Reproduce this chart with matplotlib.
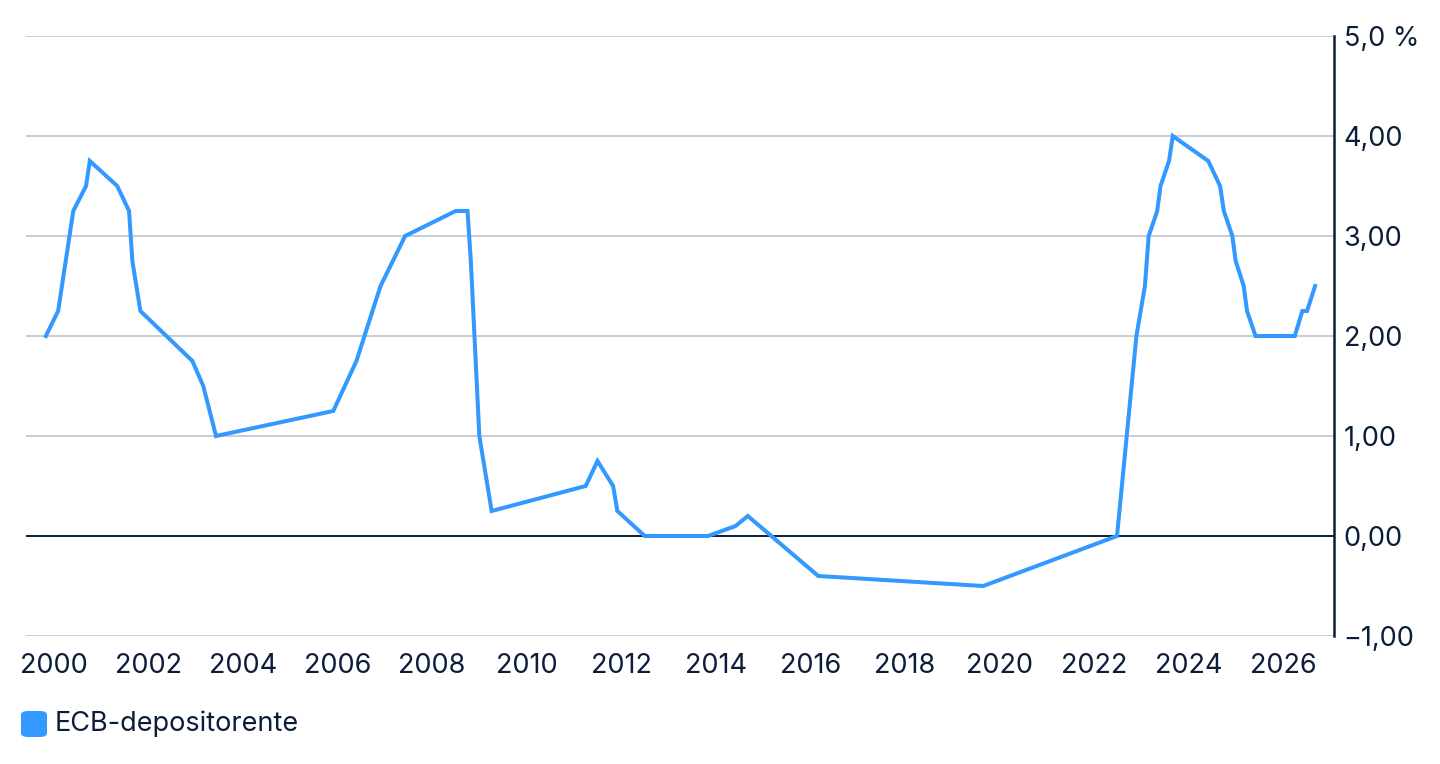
import matplotlib
matplotlib.use("Agg")
import matplotlib.pyplot as plt
from matplotlib.patches import FancyBboxPatch
from matplotlib.ticker import FixedLocator, FuncFormatter

plt.rcParams['font.family'] = ['Inter', 'DejaVu Sans']

# ECB deposit rate, change points (decimal year, %)
years = [1999.83, 2000.09, 2000.41, 2000.68, 2000.76, 2001.34, 2001.59, 2001.66,
         2001.83, 2002.93, 2003.16, 2003.43, 2005.91, 2006.40, 2006.91, 2007.43,
         2008.50, 2008.75, 2008.82, 2009.00, 2009.26, 2011.25, 2011.50, 2011.83,
         2011.92, 2012.50, 2013.84, 2014.42, 2014.68, 2016.17, 2019.66, 2022.49,
         2022.90, 2023.08, 2023.16, 2023.34, 2023.41, 2023.59, 2023.67, 2024.42,
         2024.67, 2024.75, 2024.93, 2025.00, 2025.17, 2025.24, 2025.42, 2026.25,
         2026.41, 2026.51, 2026.68]
rates = [2.00, 2.25, 3.25, 3.50, 3.75, 3.50, 3.25, 2.75,
         2.25, 1.75, 1.50, 1.00, 1.25, 1.75, 2.50, 3.00,
         3.25, 3.25, 2.75, 1.00, 0.25, 0.50, 0.75, 0.50,
         0.25, 0.00, 0.00, 0.10, 0.20, -0.40, -0.50, 0.00,
         2.00, 2.50, 3.00, 3.25, 3.50, 3.75, 4.00, 3.75,
         3.50, 3.25, 3.00, 2.75, 2.50, 2.25, 2.00, 2.00,
         2.25, 2.25, 2.50]

x_ticks = list(range(2000, 2027, 2))
y_ticks = [-1, 0, 1, 2, 3, 4, 5]
y_labels = ['\u22121,00', '0,00', '1,00', '2,00', '3,00', '4,00', '5,0 %']
series_name = 'ECB-depositorente'

NAVY = '#0b1d3a'
BLUE = '#3399ff'
GRID = '#c8ccd6'
FS = 19.5

W, H = 1440, 764
fig = plt.figure(figsize=(W / 100, H / 100), dpi=100)
ax = fig.add_axes([26 / W, 1 - 636 / H, (1334 - 26) / W, (636 - 36) / H])

ax.plot(years, rates, color=BLUE, lw=2.9, solid_joinstyle='miter', zorder=3)

ax.set_xlim(1999.41, 2027.08)
ax.set_ylim(-1, 5)

ax.xaxis.set_major_locator(FixedLocator(x_ticks))
ax.yaxis.set_major_locator(FixedLocator(y_ticks))
ax.yaxis.set_major_formatter(FuncFormatter(lambda v, p: y_labels[y_ticks.index(int(round(v)))]))
ax.yaxis.tick_right()

for y in y_ticks:
    if y == 0:
        ax.axhline(0, color=NAVY, lw=1.4, zorder=2)
    else:
        ax.axhline(y, color=GRID, lw=1.4, zorder=1)

for s in ['top', 'left', 'bottom']:
    ax.spines[s].set_visible(False)
ax.spines['right'].set_color(NAVY)
ax.spines['right'].set_linewidth(1.8)

ax.tick_params(axis='x', length=0, pad=12.5, labelsize=FS, labelcolor=NAVY)
ax.tick_params(axis='y', length=0, pad=7, labelsize=FS, labelcolor=NAVY)

# legend
fig.patches.append(FancyBboxPatch((21 / W, 1 - 737 / H), 26 / W, 26 / H,
                                  boxstyle='round,pad=0,rounding_size=0.005',
                                  transform=fig.transFigure, facecolor=BLUE,
                                  edgecolor='none'))
fig.text(55 / W, 1 - 723.5 / H, series_name, fontsize=FS, color=NAVY,
         va='center', ha='left')

fig.savefig('out.png', dpi=100, facecolor='white')
